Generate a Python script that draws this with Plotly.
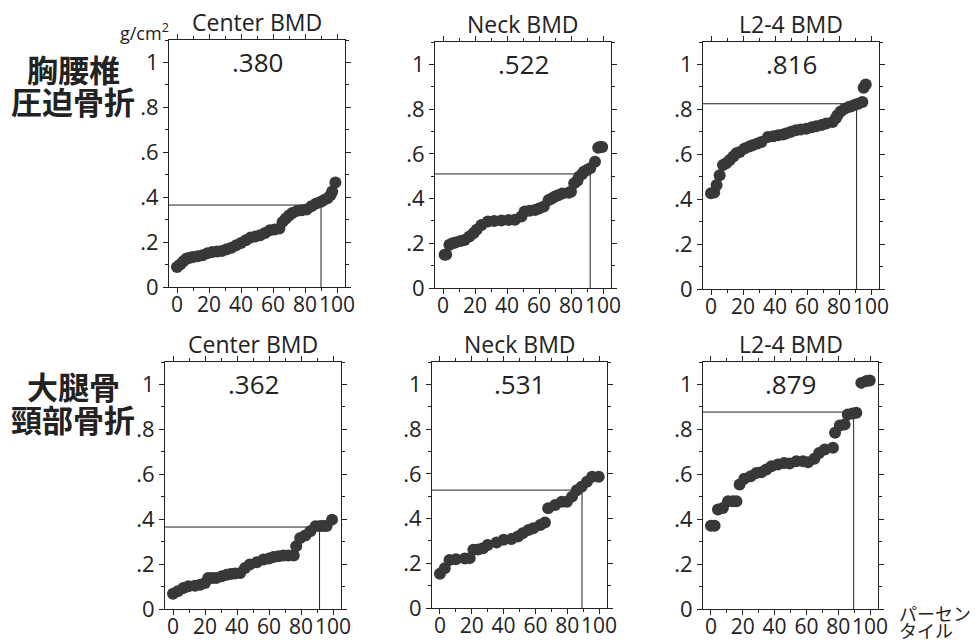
import plotly.graph_objects as go

# ---------------- data ----------------
titles = ["Center BMD", "Neck BMD", "L2-4 BMD", "Center BMD", "Neck BMD", "L2-4 BMD"]
value_labels = [".380", ".522", ".816", ".362", ".531", ".879"]
row_labels = [["胸腰椎", "圧迫骨折"], ["大腿骨", "頸部骨折"]]
pct_label = ["パーセン", "タイル"]
x_ticks = [0, 20, 40, 60, 80, 100]
y_ticks = [0, 0.2, 0.4, 0.6, 0.8, 1.0]
y_ticklabels = ["0", ".2", ".4", ".6", ".8", "1"]

# reference lines (percentile, BMD)
ref_pct = [90, 92, 91, 91.6, 89.3, 89.7]
ref_val = [0.365, 0.51, 0.825, 0.365, 0.527, 0.877]

# top-left: Center BMD (vertebral fracture)
p1_x = [0, 2, 4, 6, 8, 10, 13, 16, 19, 22, 25, 28, 31, 34, 37, 40, 43, 46, 49, 52,
        55, 58, 61, 64, 66, 68, 70, 72, 75, 78, 81, 84, 87, 90, 92, 94, 96, 97, 99]
p1_y = [0.089, 0.10, 0.115, 0.127, 0.13, 0.134, 0.137, 0.141, 0.15, 0.156, 0.158, 0.16,
        0.168, 0.175, 0.186, 0.196, 0.208, 0.22, 0.225, 0.23, 0.24, 0.253, 0.256, 0.26,
        0.29, 0.305, 0.318, 0.33, 0.339, 0.342, 0.345, 0.36, 0.372, 0.38, 0.388, 0.395,
        0.41, 0.425, 0.465]

# top-middle: Neck BMD (vertebral fracture)
p2_x = [1, 2, 4, 6, 8, 11, 13.5, 16.5, 19, 21, 24, 28, 32, 36.5, 41, 45, 49, 51, 54,
        57.5, 60, 63, 66, 68, 70, 72, 74.5, 78.5, 80, 82, 84, 85, 87, 88, 90, 92, 95,
        97, 98, 99.5]
p2_y = [0.149, 0.15, 0.193, 0.2, 0.204, 0.21, 0.215, 0.23, 0.245, 0.26, 0.282, 0.297,
        0.3, 0.302, 0.304, 0.305, 0.32, 0.342, 0.345, 0.349, 0.355, 0.364, 0.394, 0.40,
        0.409, 0.415, 0.423, 0.426, 0.43, 0.468, 0.48, 0.498, 0.51, 0.52, 0.528, 0.535,
        0.565, 0.627, 0.63, 0.631]

# top-right: L2-4 BMD (vertebral fracture)
p3_x = [0, 2, 3.5, 5.4, 7.5, 9.5, 11.7, 14, 15.8, 18, 21, 24, 26, 29, 31.5, 35.6, 39,
        42, 45, 47, 50, 53, 56, 59.6, 63, 65.8, 69, 72, 76, 78, 79, 81, 83.5, 86, 87.7,
        90, 92, 94.6, 95.4, 96.7]
p3_y = [0.426, 0.43, 0.463, 0.507, 0.552, 0.56, 0.574, 0.59, 0.604, 0.61, 0.626, 0.635,
        0.64, 0.648, 0.655, 0.677, 0.68, 0.685, 0.688, 0.692, 0.70, 0.707, 0.71, 0.714,
        0.72, 0.725, 0.73, 0.737, 0.744, 0.76, 0.774, 0.79, 0.803, 0.81, 0.814, 0.82,
        0.825, 0.833, 0.896, 0.911]

# bottom-left: Center BMD (hip fracture)
p4_x = [0, 3, 6.5, 9.6, 13.8, 17, 20, 22, 24.5, 27, 30.5, 33.6, 36, 38.8, 42, 45, 48,
        52.4, 56.6, 60, 62.8, 66, 69, 72, 75.5, 77, 79.5, 82.7, 85.8, 89, 92, 94, 96, 99.4]
p4_y = [0.068, 0.079, 0.094, 0.101, 0.104, 0.108, 0.116, 0.138, 0.138, 0.138, 0.146,
        0.153, 0.156, 0.158, 0.16, 0.183, 0.198, 0.208, 0.22, 0.225, 0.232, 0.235,
        0.238, 0.238, 0.238, 0.28, 0.316, 0.327, 0.346, 0.368, 0.37, 0.37, 0.37, 0.398]

# bottom-middle: Neck BMD (hip fracture)
p5_x = [0, 3, 6, 10, 15.6, 18.7, 21, 24, 27, 30, 35.6, 40, 45, 49, 52, 55.6, 58.7, 63,
        66, 68, 72.4, 76.6, 79.8, 83, 86, 89, 92.4, 95.6, 99.8]
p5_y = [0.153, 0.178, 0.215, 0.218, 0.221, 0.223, 0.26, 0.262, 0.267, 0.282, 0.293,
        0.305, 0.308, 0.32, 0.334, 0.349, 0.357, 0.371, 0.382, 0.446, 0.461, 0.475,
        0.475, 0.498, 0.527, 0.542, 0.565, 0.587, 0.587]

# bottom-right: L2-4 BMD (hip fracture)
p6_x = [0, 2.3, 4.4, 7.5, 10.7, 13.8, 16, 18, 21, 25, 28.5, 31.6, 34.8, 38, 42, 46,
        49.5, 53.7, 57.9, 61, 65, 68, 71.5, 76.7, 78, 81, 84, 86, 89, 91.4, 94.5, 97.7,
        99.8]
p6_y = [0.371, 0.371, 0.443, 0.45, 0.48, 0.48, 0.48, 0.554, 0.58, 0.591, 0.606, 0.609,
        0.621, 0.636, 0.643, 0.65, 0.648, 0.658, 0.658, 0.654, 0.669, 0.695, 0.71,
        0.718, 0.785, 0.817, 0.822, 0.866, 0.871, 0.874, 1.007, 1.015, 1.018]

series_x = [p1_x, p2_x, p3_x, p4_x, p5_x, p6_x]
series_y = [p1_y, p2_y, p3_y, p4_y, p5_y, p6_y]

# ---------------- layout geometry (screen pixels) ----------------
W, H = 980, 640
OFF = 8  # page body margin offsets the figure on screen


def px(xp):
    return (xp - OFF) / W


def py(yp):
    return 1 - (yp - OFF) / H


panels_px = [  # left, right, top, bottom (screen pixels)
    (169, 345, 40, 287), (435, 611, 42, 288), (703, 879, 42, 289),
    (165, 341, 362, 609), (432, 607, 362, 608), (703, 878, 362, 609),
]

INK = "#222222"
FONT = "Open Sans, Noto Sans, DejaVu Sans, sans-serif"
CJK = "Noto Sans CJK JP"
X_RANGE = [-5, 105]
Y_RANGE = [0, 1.1]

fig = go.Figure()
layout = dict(
    width=W, height=H, margin=dict(l=0, r=0, t=0, b=0, autoexpand=False),
    paper_bgcolor="white", plot_bgcolor="white", showlegend=False,
    font=dict(family=FONT, color=INK),
)
annotations = []

for i in range(6):
    n = "" if i == 0 else str(i + 1)
    xa, ya = "x" + n, "y" + n
    l, r, t, b = panels_px[i]
    layout["xaxis" + n] = dict(
        domain=[px(l), px(r)], range=X_RANGE, anchor=ya, automargin=False,
        tickvals=x_ticks, tickangle=0, ticks="outside", ticklen=5, tickcolor=INK,
        ticklabelstandoff=-6,
        showline=True, linecolor=INK, linewidth=1, mirror="allticks",
        showgrid=False, zeroline=False, tickfont=dict(size=21, color=INK),
        minor=dict(dtick=10, tick0=0, ticks="outside", ticklen=3, tickcolor=INK),
        fixedrange=True,
    )
    layout["yaxis" + n] = dict(
        domain=[py(b), py(t)], range=Y_RANGE, anchor=xa, automargin=False,
        tickvals=y_ticks, ticktext=y_ticklabels, ticks="outside", ticklen=5,
        tickcolor=INK, showline=True, linecolor=INK, linewidth=1, mirror="allticks",
        showgrid=False, zeroline=False, tickfont=dict(size=22, color=INK),
        minor=dict(dtick=0.1, tick0=0, ticks="outside", ticklen=3, tickcolor=INK),
        fixedrange=True,
    )
    # reference lines
    fig.add_trace(go.Scatter(
        x=[X_RANGE[0], ref_pct[i], ref_pct[i]], y=[ref_val[i], ref_val[i], 0],
        mode="lines", line=dict(color=INK, width=1), xaxis=xa, yaxis=ya,
        hoverinfo="skip", cliponaxis=True,
    ))
    # data points
    fig.add_trace(go.Scatter(
        x=series_x[i], y=series_y[i], mode="markers",
        marker=dict(size=12, color="#383838", line=dict(width=0)),
        xaxis=xa, yaxis=ya,
    ))
    # panel title
    annotations.append(dict(
        text=titles[i], xref="paper", yref="paper",
        x=px((l + r) / 2), y=py(t - 1), xanchor="center", yanchor="bottom",
        borderpad=0, showarrow=False, font=dict(size=23, color=INK, family=FONT),
    ))
    # value label
    annotations.append(dict(
        text=value_labels[i], xref="paper", yref="paper",
        x=px((l + r) / 2), y=py(t + 2), xanchor="center", yanchor="top",
        showarrow=False, font=dict(size=26, color=INK, family=FONT),
    ))

# unit label
annotations.append(dict(
    text="g/cm<sup>2</sup>", xref="paper", yref="paper", x=px(171), y=py(47),
    xanchor="right", yanchor="bottom", showarrow=False,
    font=dict(size=18, color=INK, family=FONT),
))
# row labels (one annotation per line)
for lines, yc in zip(row_labels, [68, 385]):
    for k, txt in enumerate(lines):
        annotations.append(dict(
            text="<b>" + txt + "</b>", xref="paper", yref="paper", x=px(73),
            y=py(yc + 33 * k), xanchor="center", yanchor="middle",
            showarrow=False, font=dict(size=31, color=INK, family=CJK),
        ))
# percentile axis label
for k, txt in enumerate(pct_label):
    annotations.append(dict(
        text=txt, xref="paper", yref="paper", x=px(897), y=py(613 + 17 * k),
        xanchor="left", yanchor="middle", showarrow=False,
        font=dict(size=18, color=INK, family=CJK),
    ))

layout["annotations"] = annotations
fig.update_layout(**layout)
fig.write_html("out.html")
